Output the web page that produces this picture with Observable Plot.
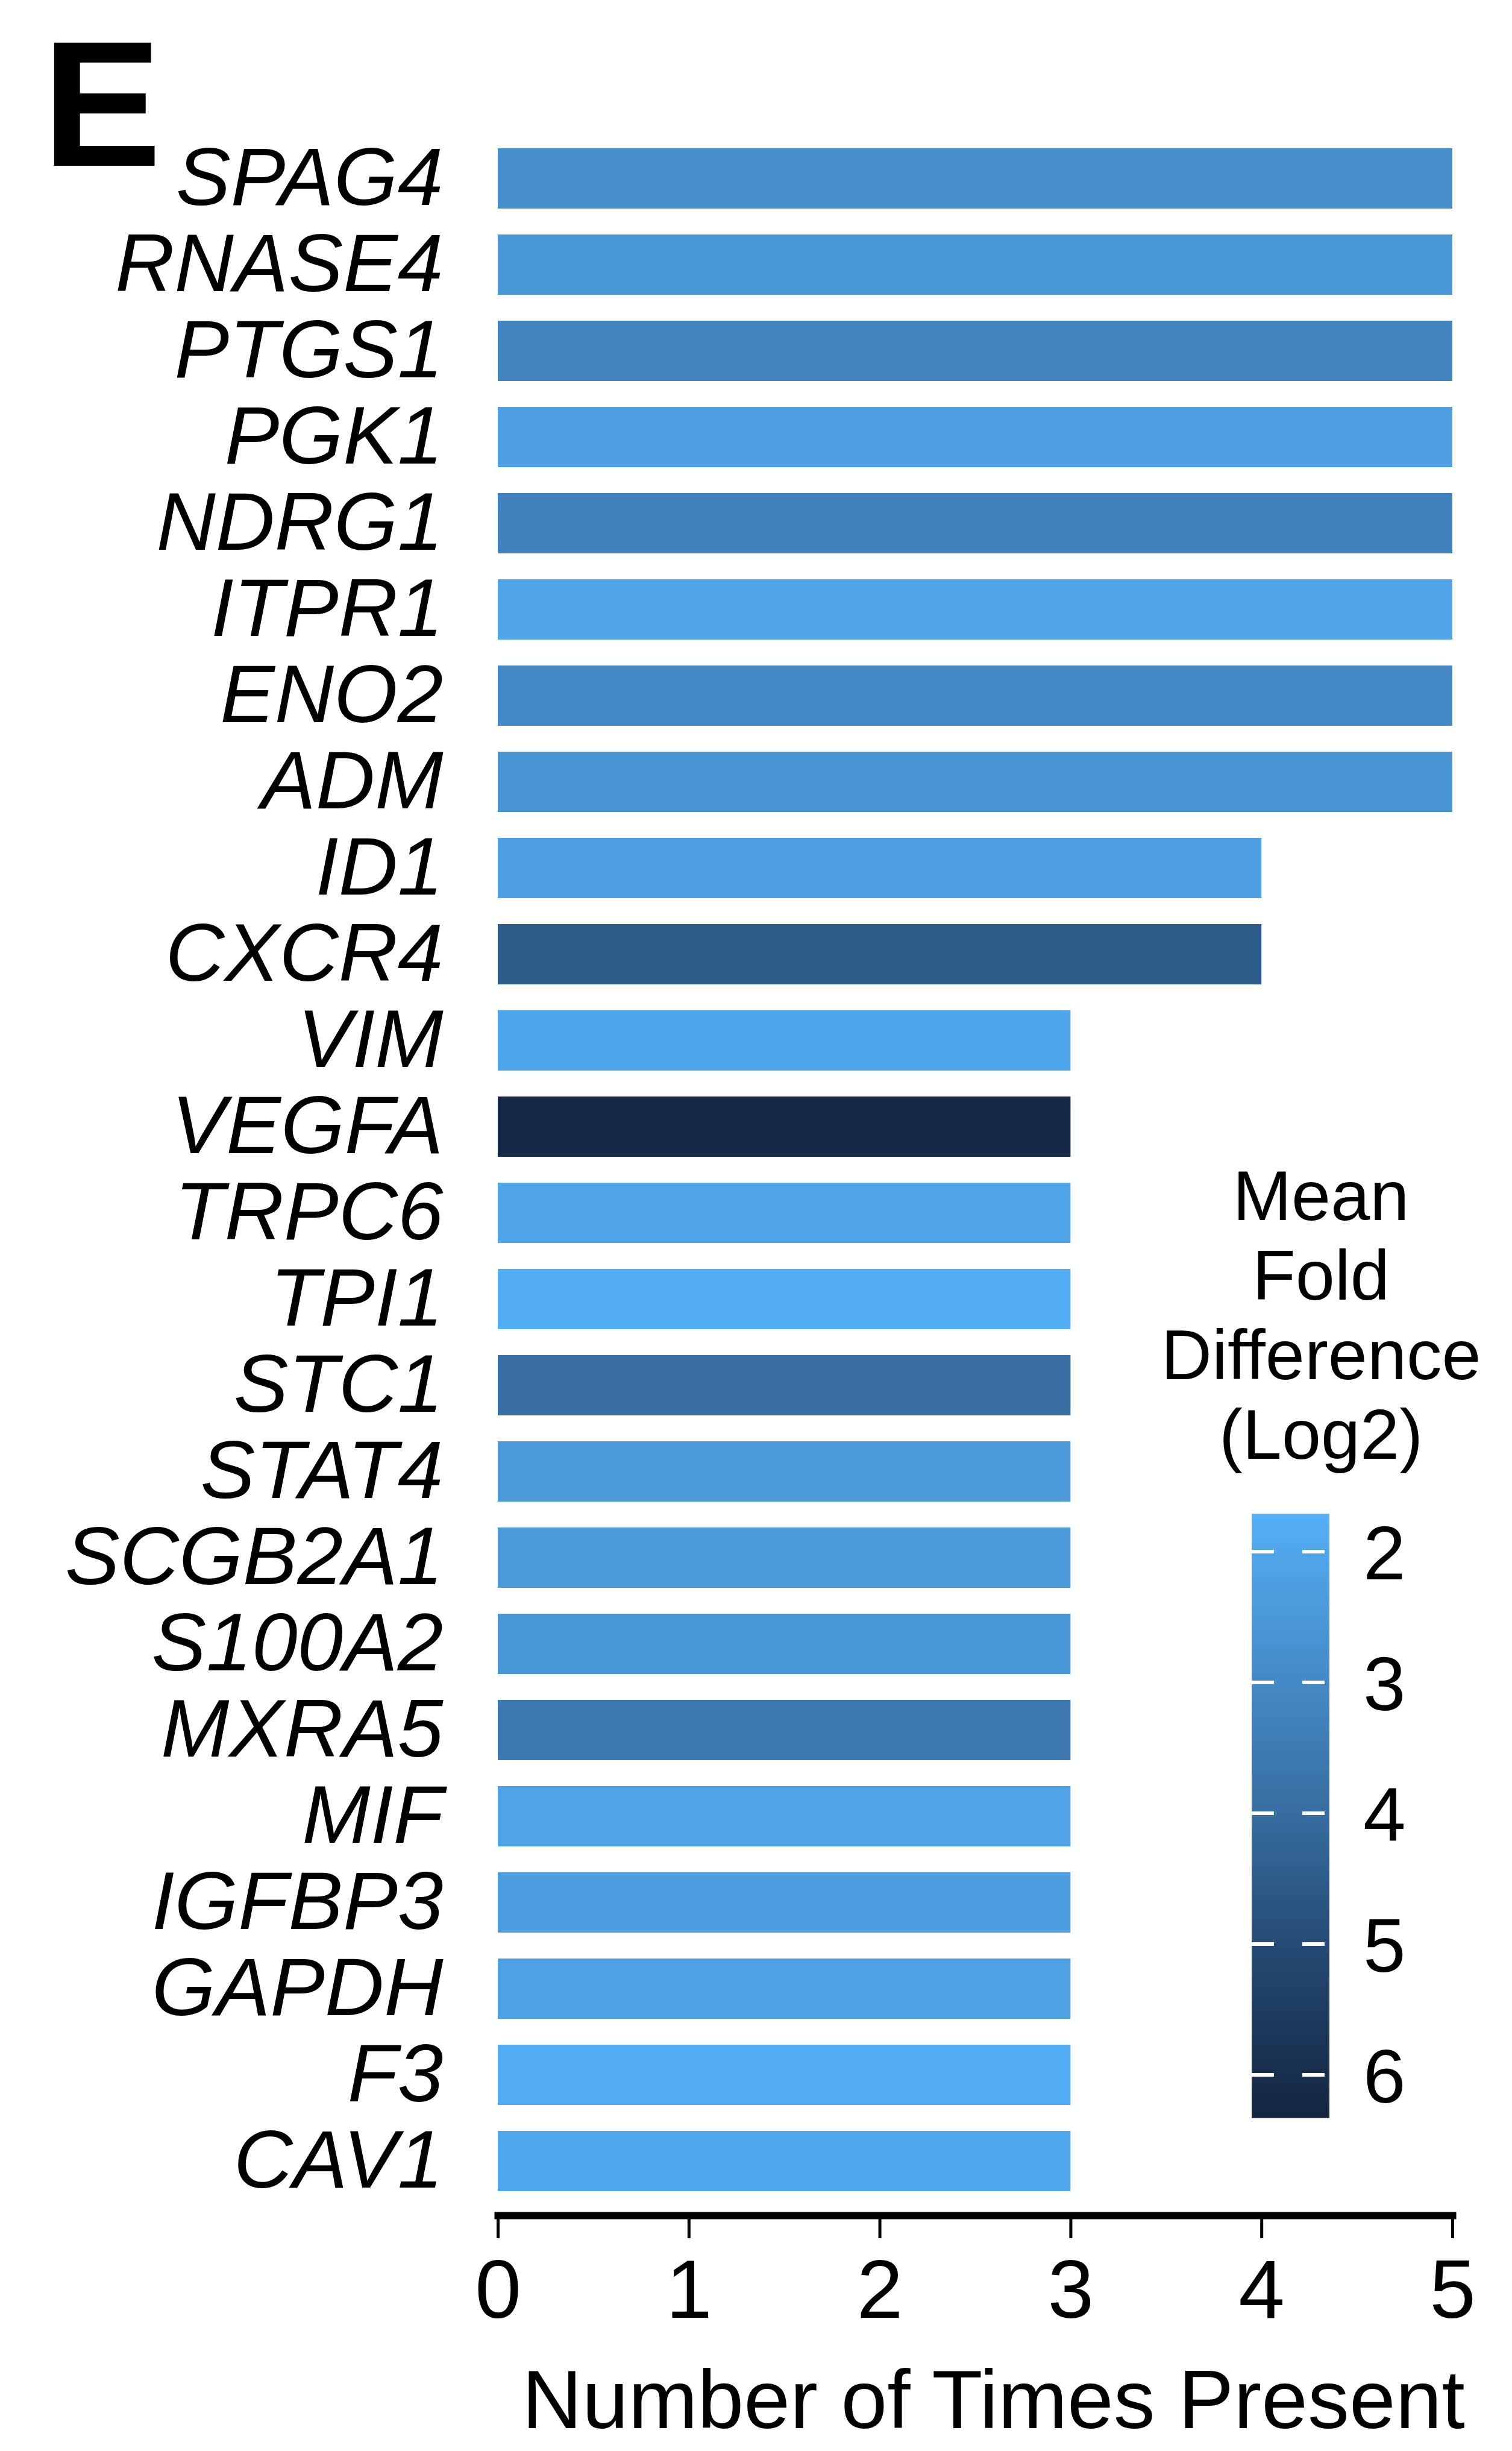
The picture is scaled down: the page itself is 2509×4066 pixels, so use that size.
<!DOCTYPE html>
<html>
<head>
<meta charset="utf-8">
<script src="https://cdn.jsdelivr.net/npm/d3@7"></script>
<script src="https://cdn.jsdelivr.net/npm/@observablehq/plot@0.6"></script>
<style>
  html, body { margin: 0; padding: 0; background: #fff; }
  #wrap { position: relative; width: 2509px; height: 4066px; font-family: "Liberation Sans", Arial, sans-serif; }
  #wrap svg { position: absolute; left: 0; top: 0; }
  g[aria-label="y-axis tick label"] text { font-style: italic; }
  #legendTitle { position: absolute; left: 1842px; top: 1918px; width: 700px; text-align: center;
    font: 117px "Liberation Sans", Arial, sans-serif; line-height: 132px; color: #000; }
</style>
</head>
<body>
<div id="wrap"></div>
<script>
// ---- data ----
const genes = ["SPAG4","RNASE4","PTGS1","PGK1","NDRG1","ITPR1","ENO2","ADM","ID1","CXCR4",
  "VIM","VEGFA","TRPC6","TPI1","STC1","STAT4","SCGB2A1","S100A2","MXRA5","MIF","IGFBP3","GAPDH","F3","CAV1"];
const timesPresent = [5,5,5,5,5,5,5,5,4,4,3,3,3,3,3,3,3,3,3,3,3,3,3,3];
const meanFoldLog2 = [2.8,2.5,3.2,2.2,3.25,2.05,3.0,2.65,2.2,4.5,2.0,6.15,2.05,1.8,3.95,2.45,2.45,2.55,3.65,2.1,2.3,2.15,1.85,1.95];
const xTicks = [0,1,2,3,4,5];
const legendTicks = [2,3,4,5,6];
const legendTitle = ["Mean","Fold","Difference","(Log2)"];
const colorDomain = [1.71,2,3,4,5,6,6.33];
const colorRange = ["#56b1f8","#50a6ea","#4489c5","#376da0","#254b74","#172e4d","#14253f"];
const xTitle = "Number of Times Present";
const panelLetter = "E";

const data = genes.map((g, i) => ({gene: g, count: timesPresent[i], fold: meanFoldLog2[i]}));

const W = 2509, H = 4066;
const font = '"Liberation Sans", Arial, sans-serif';

const plot = Plot.plot({
  width: W,
  height: H,
  marginLeft: 826,
  marginRight: 99,
  marginTop: 220,
  marginBottom: 391,
  style: {fontFamily: font, fontSize: "138px", background: "transparent", color: "#000"},
  x: {domain: [0, 5], ticks: xTicks, label: null},
  y: {domain: genes, range: [220, 3662], paddingInner: 0.3, paddingOuter: 0.15, label: null},
  color: {type: "linear", domain: colorDomain, range: colorRange, interpolate: "rgb"},
  marks: [
    Plot.barX(data, {x: "count", y: "gene", fill: "fold", inset: 0}),
    Plot.frame({anchor: "bottom", stroke: "#000", strokeWidth: 12, strokeLinecap: "square"}),
    Plot.axisX({ticks: xTicks, tickFormat: d3.format("d"), tickSize: 38, tickPadding: 34, strokeWidth: 5, fontSize: 138, label: null}),
    Plot.axisY({tickSize: 0, tickPadding: 91, fontSize: 136, fontStyle: "italic", label: null}),
    Plot.text([xTitle], {frameAnchor: "bottom", lineAnchor: "top", dy: 255, dx: 30, fontSize: 138, fill: "#000"})
  ]
});

const wrap = document.getElementById("wrap");
wrap.appendChild(plot);

// ---- overlay: panel letter + colour legend ----
const cs = plot.scale("color");
const colorFn = d3.scaleLinear().domain(cs.domain).range(cs.range).interpolate(d3.interpolateRgb);
const ly = d3.scaleLinear().domain([2, 6]).range([2574, 3442]);
const barTop = ly(cs.domain[0]), barBot = ly(cs.domain[cs.domain.length - 1]);
const barX0 = 2077, barX1 = 2206;

const svg = d3.select(wrap).append("svg")
  .attr("width", W).attr("height", H)
  .style("font-family", font);

svg.append("text")
  .attr("x", 70).attr("y", 275)
  .attr("font-size", 297).attr("font-weight", "bold")
  .text(panelLetter);

const grad = svg.append("defs").append("linearGradient")
  .attr("id", "lg").attr("x1", 0).attr("x2", 0).attr("y1", 0).attr("y2", 1);
grad.selectAll("stop").data(d3.range(0, 1.0001, 0.02)).join("stop")
  .attr("offset", d => d)
  .attr("stop-color", d => colorFn(ly.invert(barTop + d * (barBot - barTop))));

svg.append("rect")
  .attr("x", barX0).attr("y", barTop)
  .attr("width", barX1 - barX0).attr("height", barBot - barTop)
  .attr("fill", "url(#lg)");

const tg = svg.append("g").selectAll("g").data(legendTicks).join("g")
  .attr("transform", d => `translate(0,${ly(d)})`);
tg.append("line").attr("x1", barX0).attr("x2", barX0 + 37).attr("stroke", "#fff").attr("stroke-width", 6);
tg.append("line").attr("x1", barX1 - 45).attr("x2", barX1 - 8).attr("stroke", "#fff").attr("stroke-width", 6);
tg.append("text").attr("x", 2262).attr("dy", "0.36em").attr("font-size", 127).text(d => d);

// legend title as one wrapped HTML block
const title = document.createElement("div");
title.id = "legendTitle";
title.innerHTML = legendTitle.join("<br>");
wrap.appendChild(title);
</script>
</body>
</html>
